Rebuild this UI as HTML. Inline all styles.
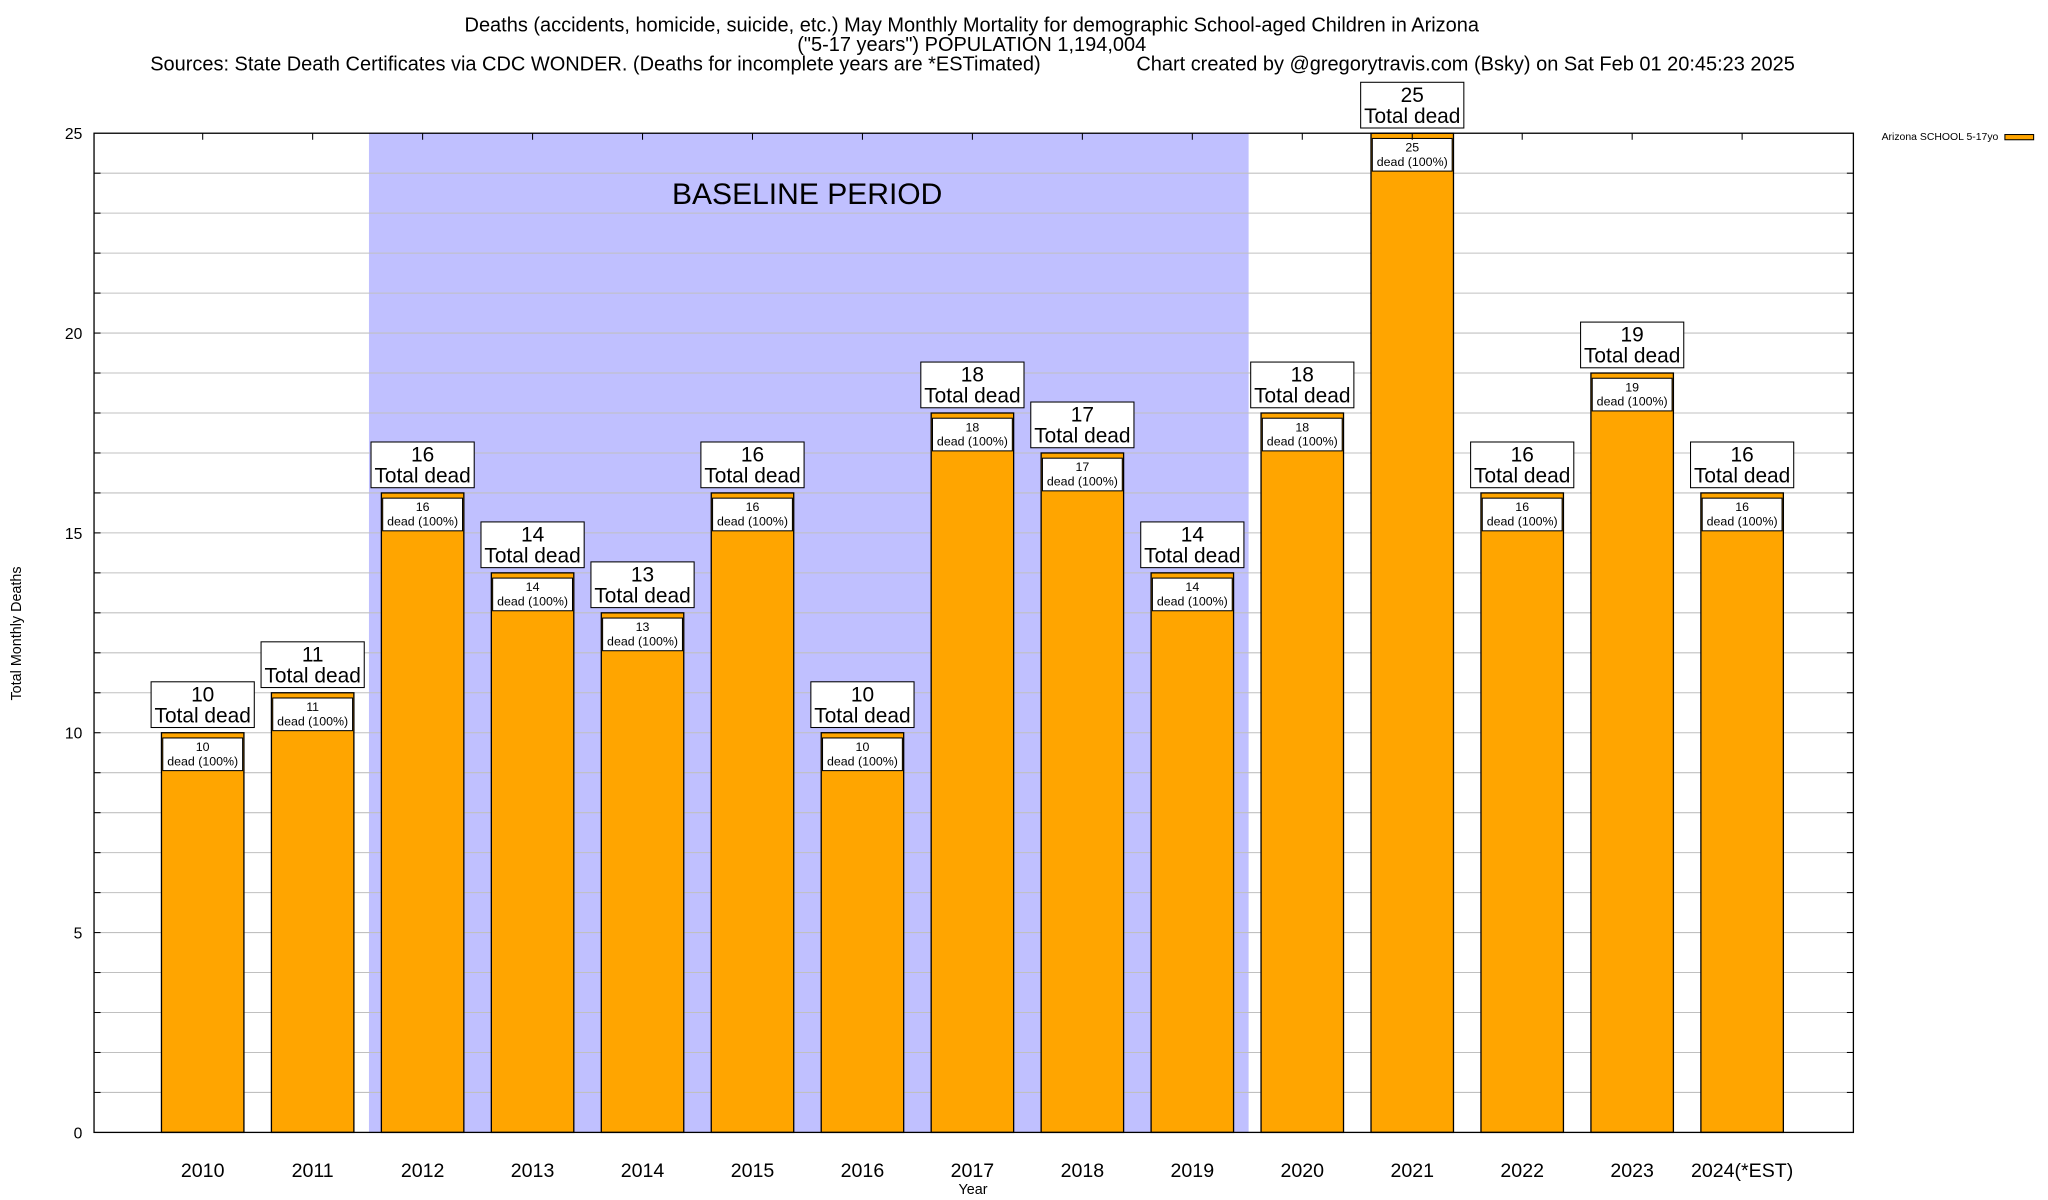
<!DOCTYPE html>
<html><head><meta charset="utf-8"><style>
html,body{margin:0;padding:0;background:#fff;}
svg{display:block;font-family:"Liberation Sans",Arial,sans-serif;}
</style></head><body>
<svg id="chart" width="2048" height="1200" viewBox="0 0 1568 918.75" preserveAspectRatio="none" xmlns="http://www.w3.org/2000/svg">
<rect x="0" y="0" width="1568" height="918.75" fill="#fff"/>
<g font-size="15.3" fill="#000">
<text x="744" y="24" text-anchor="middle">Deaths (accidents, homicide, suicide, etc.) May Monthly Mortality for demographic School-aged Children in Arizona</text>
<text x="744" y="39" text-anchor="middle">("5-17 years") POPULATION 1,194,004</text>
<text x="115" y="54">Sources: State Death Certificates via CDC WONDER. (Deaths for incomplete years are *ESTimated)</text>
<text x="870" y="54">Chart created by @gregorytravis.com (Bsky) on Sat Feb 01 20:45:23 2025</text>
</g>
<g id="plot"></g>
<text x="16" y="485" font-size="11" text-anchor="middle" transform="rotate(-90 16 485)">Total Monthly Deaths</text>
<text x="745" y="914" font-size="11" text-anchor="middle">Year</text>
<g>
<text x="1530" y="107" font-size="8" text-anchor="end">Arizona SCHOOL 5-17yo</text>
<rect x="1535" y="103" width="22" height="4" fill="#ffa500" stroke="#000" stroke-width="0.8"/>
</g>
</svg>
<script>
const categories = ["2010","2011","2012","2013","2014","2015","2016","2017","2018","2019","2020","2021","2022","2023","2024(*EST)"];
const deaths = [10,11,16,14,13,16,10,18,17,14,18,25,16,19,16];
const yTicks = [0,5,10,15,20,25];
const baselineRange = [1.5, 9.5];

const NS = "http://www.w3.org/2000/svg";
const L = 72, R = 1419, T = 102, B = 867;
const xMin = -1, xMax = 15, yMax = 25;
const xs = i => L + (i - xMin) / (xMax - xMin) * (R - L);
const ys = v => B - v / yMax * (B - T);
const unit = (R - L) / (xMax - xMin);
const plot = document.getElementById('plot');
function mk(tag, attrs, parent, text) {
  const e = document.createElementNS(NS, tag);
  for (const k in attrs) e.setAttribute(k, attrs[k]);
  if (text !== undefined) e.textContent = text;
  (parent || plot).appendChild(e);
  return e;
}
const bg = mk('rect', {x: L, y: T, width: R - L, height: B - T, fill: '#fff'});


const base = mk('rect', {x: xs(baselineRange[0]), y: T, width: xs(baselineRange[1]) - xs(baselineRange[0]), height: B - T, fill: '#c0c0ff'});


for (let v = 1; v < yMax; v++) {
  const g = mk('line', {x1: L, x2: R, y1: ys(v), y2: ys(v), stroke: '#c0c0c0', 'stroke-width': 0.8});
  
  
  mk('line', {x1: L, x2: L + 5, y1: ys(v), y2: ys(v), stroke: '#000', 'stroke-width': 0.8});
  mk('line', {x1: R - 5, x2: R, y1: ys(v), y2: ys(v), stroke: '#000', 'stroke-width': 0.8});
}
const bt = mk('text', {x: 618, y: 156, 'font-size': 23, 'text-anchor': 'middle'}, plot, 'BASELINE PERIOD');


yTicks.forEach(v => {
  const t = mk('text', {x: 63, y: ys(v) + 4.5, 'font-size': 12, 'text-anchor': 'end'}, plot, String(v));
  
  
});
const bw = unit * 0.75;
deaths.forEach((d, i) => {
  const cx = xs(i) - 1;
  const g = mk('g', {});
  
  
  mk('rect', {x: cx - bw / 2, y: ys(d), width: bw, height: B - ys(d), fill: '#ffa500', stroke: '#000', 'stroke-width': 1}, g);
  const iy = ys(d) + 4;
  mk('rect', {x: cx - bw / 2 + 1, y: iy, width: bw - 2, height: 25, fill: '#fff', stroke: '#000', 'stroke-width': 0.8}, g);
  mk('text', {x: cx, y: iy + 10, 'font-size': 9.5, 'text-anchor': 'middle'}, g, String(d));
  mk('text', {x: cx, y: iy + 21, 'font-size': 9.5, 'text-anchor': 'middle'}, g, 'dead (100%)');
  const oy = ys(d) - 39;
  const ob = mk('g', {}, g);
  
  
  mk('rect', {x: cx - 39.5, y: oy, width: 79, height: 35, fill: '#fff', stroke: '#000', 'stroke-width': 0.8}, ob);
  mk('text', {x: cx, y: oy + 15, 'font-size': 16, 'text-anchor': 'middle'}, ob, String(d));
  mk('text', {x: cx, y: oy + 31, 'font-size': 16, 'text-anchor': 'middle'}, ob, 'Total dead');
  mk('line', {x1: cx, x2: cx, y1: T, y2: T + 5, stroke: '#000', 'stroke-width': 0.8});
  const xl = mk('text', {x: cx, y: 901, 'font-size': 15, 'text-anchor': 'middle'}, plot, categories[i]);
  
  
});
const fr = mk('rect', {x: L, y: T, width: R - L, height: B - T, fill: 'none', stroke: '#000', 'stroke-width': 1});


</script>
</body></html>
